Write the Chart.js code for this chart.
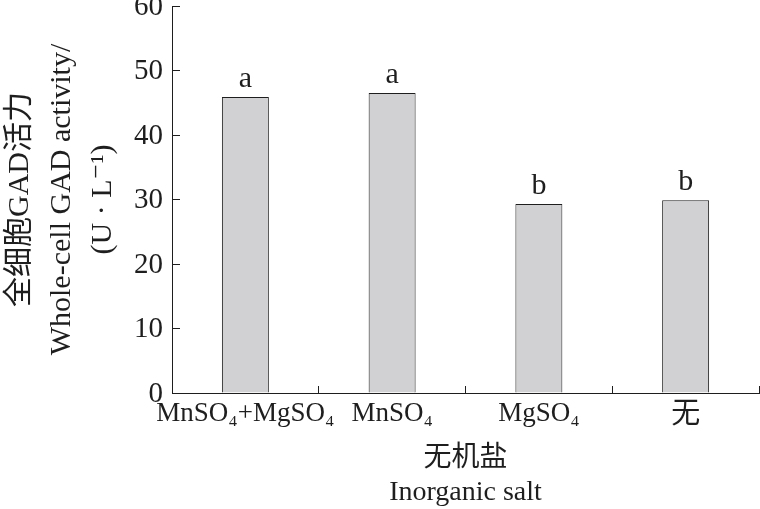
<!DOCTYPE html>
<html>
<head>
<meta charset="utf-8">
<script src="https://cdn.jsdelivr.net/npm/chart.js@4/dist/chart.umd.min.js"></script>
<style>
  html, body { margin: 0; padding: 0; background: #fff; }
  #wrap { width: 760px; height: 509px; position: relative; }
</style>
</head>
<body>
<div id="wrap"><canvas id="c"></canvas></div>
<script>
const categories = ['MnSO\u2084+MgSO\u2084', 'MnSO\u2084', 'MgSO\u2084', '\u65e0'];
const gadActivity = [45.9, 46.5, 29.3, 29.9];
const significance = ['a', 'a', 'b', 'b'];
const yTitleLines = ['\u5168\u7ec6\u80deGAD\u6d3b\u529b', 'Whole-cell GAD activity/', '(U \u00b7 L\u207b\u00b9)'];
const xTitleLines = ['\u65e0\u673a\u76d0', 'Inorganic salt'];
const yMin = 0, yMax = 60, yStep = 10;

const FAM = "'Liberation Serif', 'DejaVu Serif', 'Noto Sans CJK SC', serif";
const INK = '#1e1e1e';

const letterPlugin = {
  id: 'letters',
  afterDatasetsDraw(chart) {
    const meta = chart.getDatasetMeta(0);
    const ctx = chart.ctx;
    ctx.save();
    ctx.font = '30px ' + FAM;
    ctx.fillStyle = INK;
    ctx.textAlign = 'center';
    ctx.textBaseline = 'alphabetic';
    meta.data.forEach((bar, i) => {
      ctx.fillText(significance[i], bar.x, bar.y - 10);
    });
    ctx.restore();
  }
};

new Chart(document.getElementById('c'), {
  type: 'bar',
  data: {
    labels: categories,
    datasets: [{
      data: gadActivity,
      backgroundColor: '#d1d1d3',
      borderColor: INK,
      borderWidth: 1,
      barPercentage: 0.32,
      categoryPercentage: 1
    }]
  },
  options: {
    responsive: true,
    maintainAspectRatio: false,
    animation: false,
    devicePixelRatio: 1,
    layout: { padding: { top: 6, right: 1, left: 0, bottom: 0 } },
    plugins: { legend: { display: false }, tooltip: { enabled: false } },
    scales: {
      x: {
        offset: true,
        grid: { drawOnChartArea: false, offset: true, tickLength: -7, color: INK, tickColor: INK },
        border: { display: true, color: INK, width: 1 },
        ticks: {
          color: INK,
          maxRotation: 0,
          minRotation: 0,
          autoSkip: false,
          padding: 12,
          font: (ctx) => ({ family: FAM, size: ctx.index === 3 ? 29 : 27, lineHeight: 1.2 })
        },
        title: {
          display: true,
          text: xTitleLines,
          color: INK,
          font: { family: FAM, size: 28, lineHeight: 1.2 },
          padding: { top: 0, bottom: 0 }
        },
        afterFit: (s) => { s.height = 116; s.paddingLeft = 0; s.paddingRight = 0; }
      },
      y: {
        min: yMin,
        max: yMax,
        grid: { drawOnChartArea: false, tickLength: -8, color: INK, tickColor: INK },
        border: { display: true, color: INK, width: 1 },
        ticks: {
          stepSize: yStep,
          color: INK,
          padding: 17,
          labelOffset: 1,
          font: { family: FAM, size: 29, lineHeight: 0.4 }
        },
        title: {
          display: true,
          text: yTitleLines,
          color: INK,
          font: { family: FAM, size: 30, lineHeight: 1.37 },
          padding: { top: 0, bottom: 0 }
        },
        afterFit: (s) => { s.width = 172; s.paddingTop = 0; s.paddingBottom = 0; }
      }
    }
  },
  plugins: [letterPlugin]
});
</script>
</body>
</html>
